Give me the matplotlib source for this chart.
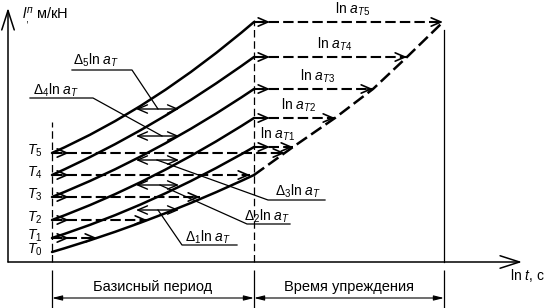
import matplotlib
matplotlib.use('Agg')
import matplotlib.pyplot as plt
from matplotlib.path import Path
from matplotlib.patches import PathPatch

plt.rcParams['font.family'] = ['Liberation Sans', 'DejaVu Sans']
plt.rcParams['mathtext.fontset'] = 'custom'
plt.rcParams['mathtext.rm'] = 'Liberation Sans'
plt.rcParams['mathtext.it'] = 'Liberation Sans:italic'
plt.rcParams['mathtext.sf'] = 'Liberation Sans'

# ---------------- data (schematic units: ln t horizontally, compliance vertically)
temp_labels = ['$T_0$', '$T_1$', '$T_2$', '$T_3$', '$T_4$', '$T_5$']
shift_labels = [r'ln $a_{T\mathrm{1}}$', r'ln $a_{T\mathrm{2}}$', r'ln $a_{T\mathrm{3}}$',
                r'ln $a_{T\mathrm{4}}$', r'ln $a_{T\mathrm{5}}$']
delta_labels = [r'$\Delta_1$ln $a_T$', r'$\Delta_2$ln $a_T$', r'$\Delta_3$ln $a_T$',
                r'$\Delta_4$ln $a_T$', r'$\Delta_5$ln $a_T$']

lnt_base_start = 4.4
lnt_base_end = 24.6
lnt_forecast_end = 43.6

level_start = [1.0, 2.4, 4.2, 6.5, 8.7, 10.9]     # compliance at start of base period
level_mid = [4.4, 6.3, 8.6, 11.2, 13.9, 16.4]      # compliance in middle of base period
level_end = [8.7, 11.5, 14.4, 17.3, 20.5, 24.0]    # compliance at end of base period
master_lnt = [24.6, 28.5, 32.7, 36.5, 39.9, 43.5]  # ln t on master curve for each level_end
base_hit_lnt = [8.9, 13.9, 19.2, 24.2, 27.7]       # where T1..T5 start levels meet T0 curve
delta_level = [5.2, 7.7, 10.2, 12.6, 15.3]         # levels of the Δ shifts
delta_from, delta_to = 12.8, 17.1

fig = plt.figure(figsize=(5.45, 3.08), dpi=100)
ax = fig.add_axes([0, 0, 1, 1])
ax.set_xlim(-0.8, 53.7)
ax.set_ylim(-4.6, 26.2)
ax.axis('off')

K = 'black'
DASH = (0, (5, 2))


def head(x, y, style='->', lw=1.2):
    ax.annotate('', xy=(x, y), xytext=(x - 0.6, y),
                arrowprops=dict(arrowstyle=style + ',head_length=0.7,head_width=0.3',
                                lw=lw, color=K, shrinkA=0, shrinkB=0, mutation_scale=10))


# axes with open arrows
ax.annotate('', xy=(0, 25.4), xytext=(0, 0),
            arrowprops=dict(arrowstyle='->,head_length=1.4,head_width=0.45', lw=1.1,
                            color=K, shrinkA=0, shrinkB=0, mutation_scale=10))
ax.annotate('', xy=(51.4, 0), xytext=(0, 0),
            arrowprops=dict(arrowstyle='->,head_length=1.4,head_width=0.45', lw=1.1,
                            color=K, shrinkA=0, shrinkB=0, mutation_scale=10))
ax.text(1.4, 24.6, r'$l_{,}^{п}$ м/кН', fontsize=10.5, ha='left', va='center')
ax.text(50.2, -1.4, r'ln $t$, с', fontsize=10, ha='left', va='center')

# period boundaries
ax.plot([lnt_base_start] * 2, [0, 14.0], color=K, lw=0.9, ls=(0, (6, 3)))
ax.plot([lnt_base_end] * 2, [0, 24.2], color=K, lw=0.9, ls=(0, (6, 3)))
ax.plot([lnt_forecast_end] * 2, [0, 23.2], color=K, lw=0.9)
ax.vlines([lnt_base_start, lnt_base_end, lnt_forecast_end], -4.6, -0.8, color=K, lw=0.9)
for a, b in [(lnt_base_start, lnt_base_end), (lnt_base_end, lnt_forecast_end)]:
    ax.annotate('', xy=(b, -3.6), xytext=(a, -3.6),
                arrowprops=dict(arrowstyle='<|-|>,head_length=0.6,head_width=0.15', lw=0.8,
                                color=K, shrinkA=0, shrinkB=0, mutation_scale=10))
ax.text((lnt_base_start + lnt_base_end) / 2, -2.5, 'Базисный период', fontsize=10.5,
        ha='center', va='center')
ax.text((lnt_base_end + lnt_forecast_end) / 2, -2.5, 'Время упреждения', fontsize=10.5,
        ha='center', va='center')

# creep curves for each temperature
mid_x = (lnt_base_start + lnt_base_end) / 2
for k in range(6):
    y0, ym, y1 = level_start[k], level_mid[k], level_end[k]
    ctrl = (mid_x, 2 * ym - (y0 + y1) / 2)
    path = Path([(lnt_base_start, y0), ctrl, (lnt_base_end, y1)],
                [Path.MOVETO, Path.CURVE3, Path.CURVE3])
    ax.add_patch(PathPatch(path, fill=False, lw=1.8, color=K, capstyle='round'))
    ax.annotate(temp_labels[k], xy=(2.7, y0), xytext=(0, 1.5), textcoords='offset points',
                fontsize=10, ha='center', va='center')

# master curve (forecast)
ax.plot(master_lnt, level_end, color=K, lw=1.8, ls=DASH)

# horizontal shifts in base period
for k in range(1, 6):
    y = level_start[k]
    ax.plot([lnt_base_start, base_hit_lnt[k - 1]], [y, y], color=K, lw=1.5, ls=DASH)
    head(lnt_base_start + 1.7, y)
    head(base_hit_lnt[k - 1], y)

# shifts into forecast region
for k in range(1, 6):
    y = level_end[k]
    ax.plot([lnt_base_end, master_lnt[k]], [y, y], color=K, lw=1.5, ls=DASH)
    head(lnt_base_end + 1.6, y)
    head(master_lnt[k], y)
    ax.annotate(shift_labels[k - 1], xy=((lnt_base_end + master_lnt[k]) / 2, y),
                xytext=(3, 9.5), textcoords='offset points', fontsize=10,
                ha='center', va='center')

# Δ shifts between neighbouring curves
for y in delta_level:
    ax.annotate('', xy=(delta_to, y), xytext=(delta_from, y),
                arrowprops=dict(arrowstyle='<->,head_length=0.7,head_width=0.3', lw=1.0,
                                color=K, shrinkA=0, shrinkB=0, mutation_scale=10))

leaders = [
    ([15.0, 17.4, 22.9], [delta_level[0], 1.7, 1.7], (17.7, 2.5)),
    ([15.2, 23.9, 28.2], [delta_level[1], 3.8, 3.8], (23.6, 4.6)),
    ([14.9, 26.0, 31.7], [delta_level[2], 6.2, 6.2], (26.7, 7.1)),
    ([15.4, 8.5, 2.2], [delta_level[3], 16.4, 16.4], (2.5, 17.2)),
    ([15.0, 12.4, 6.4], [delta_level[4], 19.2, 19.2], (6.5, 20.2)),
]
for (xs, ys, (tx, ty)), lab in zip(leaders, delta_labels):
    ax.plot(xs, ys, color=K, lw=0.9)
    ax.text(tx, ty, lab, fontsize=10, ha='left', va='center')

fig.savefig('out.png', dpi=100)
